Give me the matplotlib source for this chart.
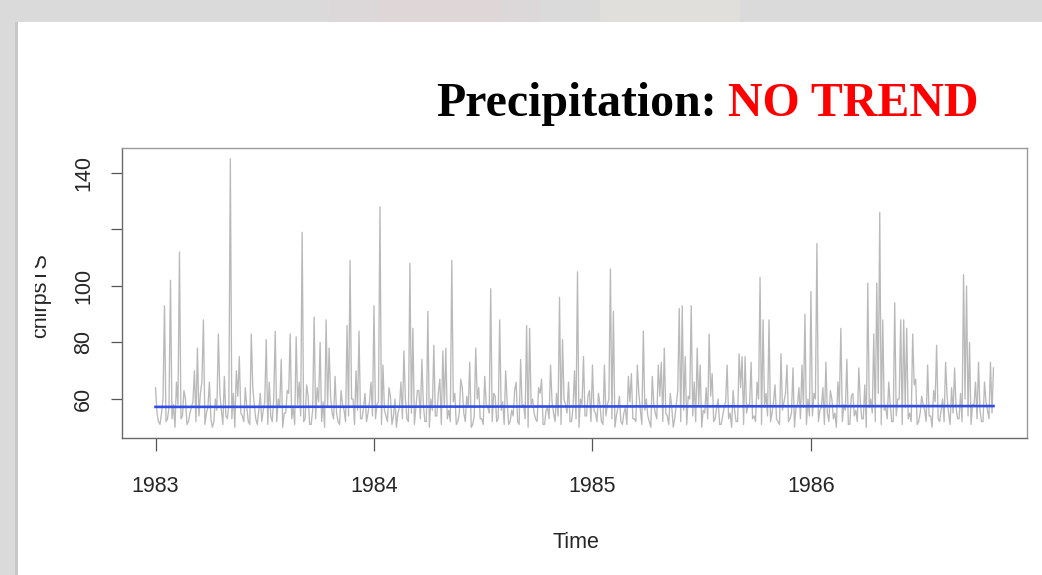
import numpy as np
import matplotlib.pyplot as plt
from matplotlib.patches import Rectangle

# -----------------------------
# Data (precipitation index)
# peaks: one value per pentad, troughs: the low between two pentads
# -----------------------------
start_year = 1983
per_year = 73

peaks_1983 = [64, 52, 55, 93, 53, 102, 58, 66, 112, 54, 60, 52, 57, 70, 78, 62, 88, 55, 66, 50,
              60, 83, 56, 68, 53, 145, 62, 70, 75, 54, 64, 52, 83, 58, 51, 62, 56, 81, 66, 52,
              84, 60, 74, 55, 63, 83, 57, 82, 66, 119, 53, 61, 51, 89, 64, 80, 59, 88, 78, 55,
              68, 52, 63, 56, 86, 109, 60, 70, 84, 53, 62, 55, 66]
peaks_1984 = [93, 58, 128, 72, 54, 64, 51, 60, 55, 66, 77, 53, 108, 85, 57, 63, 74, 52, 91, 60,
              79, 54, 67, 77, 78, 56, 109, 62, 52, 67, 55, 61, 73, 51, 78, 64, 53, 68, 57, 99,
              62, 52, 88, 59, 70, 51, 56, 63, 52, 74, 58, 86, 85, 60, 53, 64, 67, 51, 57, 72,
              55, 62, 96, 81, 58, 66, 52, 70, 105, 60, 75, 54, 63]
peaks_1985 = [72, 55, 62, 52, 72, 58, 106, 91, 54, 61, 51, 57, 68, 69, 53, 72, 56, 84, 60, 52,
              68, 55, 72, 73, 78, 54, 62, 50, 58, 92, 93, 75, 61, 93, 66, 78, 72, 56, 64, 83,
              69, 53, 60, 51, 57, 72, 55, 63, 52, 76, 75, 75, 58, 73, 54, 66, 103, 88, 62, 88,
              55, 65, 52, 76, 59, 72, 53, 71, 57, 64, 72, 90, 60]
peaks_1986 = [98, 62, 115, 56, 64, 73, 52, 60, 55, 66, 85, 58, 74, 51, 62, 56, 71, 53, 65, 101,
              60, 83, 101, 126, 88, 57, 66, 52, 94, 60, 88, 88, 85, 55, 83, 67, 52, 61, 56, 72,
              54, 63, 79, 52, 60, 73, 55, 64, 71, 53, 62, 104, 100, 80, 58, 66, 73, 52, 66, 56,
              73, 71]

troughs_1983 = [55, 51, 60, 52, 57, 53, 50, 58, 53, 63, 51, 55, 59, 52, 54, 66, 51, 57, 53, 52,
                56, 62, 51, 54, 58, 53, 50, 61, 55, 52, 57, 51, 64, 53, 56, 52, 59, 51, 54, 60,
                52, 57, 50, 55, 62, 53, 51, 58, 54, 52, 65, 51, 56, 53, 59, 52, 50, 57, 61, 53,
                55, 51, 58, 52, 54, 60, 51, 56, 53, 57, 52, 59, 54]
troughs_1984 = [53, 59, 51, 56, 52, 61, 54, 50, 57, 53, 60, 52, 55, 51, 63, 53, 58, 52, 50, 56,
                54, 62, 51, 57, 53, 52, 59, 51, 55, 64, 52, 57, 50, 54, 60, 53, 51, 58, 55, 52,
                61, 53, 56, 51, 59, 52, 54, 66, 51, 57, 53, 50, 58, 55, 52, 62, 51, 56, 53, 59,
                52, 54, 51, 60, 55, 52, 57, 53, 50, 58, 54, 61, 52]
troughs_1985 = [56, 52, 58, 51, 54, 60, 53, 50, 57, 52, 55, 51, 59, 53, 52, 62, 51, 56, 54, 50,
                58, 53, 61, 52, 55, 51, 57, 53, 63, 52, 56, 51, 60, 54, 52, 58, 50, 55, 53, 61,
                52, 57, 51, 54, 59, 53, 50, 56, 52, 64, 51, 55, 58, 53, 52, 60, 51, 57, 54, 52,
                59, 53, 51, 56, 62, 52, 55, 50, 58, 53, 57, 51, 54]
troughs_1986 = [54, 60, 52, 57, 51, 55, 63, 53, 50, 58, 52, 56, 51, 61, 54, 52, 59, 53, 50, 57,
                55, 52, 62, 51, 56, 53, 58, 52, 54, 60, 51, 57, 53, 52, 65, 51, 55, 58, 52, 54,
                50, 59, 53, 56, 52, 61, 51, 55, 57, 53, 52, 60, 54, 51, 58, 53, 56, 52, 59, 53,
                55]

trend_vals = [57.2, 57.5]   # fitted line, start and end

y_ticks = [60, 80, 100, 120, 140]
y_tick_labels = ["60", "80", "100", "", "140"]
x_ticks = [1983, 1984, 1985, 1986]

peaks = np.array(peaks_1983 + peaks_1984 + peaks_1985 + peaks_1986, dtype=float)
troughs = np.array(troughs_1983 + troughs_1984 + troughs_1985 + troughs_1986, dtype=float)

t_peaks = start_year + np.arange(len(peaks)) / per_year
t_troughs = t_peaks[:-1] + 0.5 / per_year

# interleave into one series
t = np.empty(len(peaks) + len(troughs))
y = np.empty_like(t)
t[0::2], y[0::2] = t_peaks, peaks
t[1::2], y[1::2] = t_troughs, troughs

# -----------------------------
# Figure: slide look
# -----------------------------
W, H = 1042, 575
fig = plt.figure(figsize=(W / 100, H / 100), dpi=100)
fig.patch.set_facecolor("#dadada")


def fx(x):
    return x / W


def fy(yy):
    return 1 - yy / H


def box(x0, y0, x1, y1, color, z):
    # rectangle in pixel coords (y measured from the top)
    fig.patches.append(Rectangle((fx(x0), fy(y1)), fx(x1) - fx(x0), (y1 - y0) / H,
                                 transform=fig.transFigure, facecolor=color,
                                 edgecolor="none", zorder=z))


# blurred slide background + white slide
box(330, 0, 380, 22, "#dcd8d9", -3)
box(380, 0, 500, 22, "#dfd6d8", -3)
box(500, 0, 540, 22, "#dcd8d9", -3)
box(600, 0, 740, 22, "#e0dfdb", -3)
box(15, 22, 18, 575, "#c8c8c8", -2)
box(18, 22, W, 575, "white", -2)

ax = fig.add_axes([fx(122), fy(438), fx(1027) - fx(122), (438 - 148) / H])
ax.set_zorder(1)
ax.set_facecolor("white")

ax.plot(t, y, color="#b9b9b9", lw=0.95)
ax.plot([t[0], t[-1]], trend_vals, color="#2f4de6", lw=1.9)

ax.margins(x=0.04, y=0.04)

ax.set_xticks(x_ticks)
ax.set_xticklabels([str(x) for x in x_ticks])
ax.set_yticks(y_ticks)
ax.set_yticklabels(y_tick_labels, rotation=90, va="center")

for s in ax.spines.values():
    s.set_color("#6a6a6a")
    s.set_linewidth(1.0)
ax.spines["top"].set_color("#9a9a9a")
ax.spines["right"].set_color("#9a9a9a")

ax.tick_params(axis="x", length=9.5, width=0.9, color="#555555", pad=18,
               labelsize=15.5, labelcolor="#262626")
ax.tick_params(axis="y", length=8, width=0.9, color="#555555", pad=12,
               labelsize=15.5, labelcolor="#262626")
for lab in ax.get_xticklabels() + ax.get_yticklabels():
    lab.set_fontfamily("Liberation Sans")

fig.text(fx(576), fy(542), "Time", ha="center", va="center", fontsize=15.5,
         color="#262626", family="Liberation Sans")

# y label, cut off at the left edge of the pasted picture
fig.text(fx(46), fy(296), "chirpsTS", rotation=90, rotation_mode="anchor",
         ha="center", va="baseline", fontsize=15.5, color="#262626",
         family="Liberation Sans", zorder=1)
box(20, 230, 34.5, 360, "white", 5)

# title
fig.text(fx(436), fy(116), "Precipitation:", ha="left", va="baseline", fontsize=34.5,
         fontweight="bold", family="Liberation Serif", color="black")
fig.text(fx(978), fy(116), "NO TREND", ha="right", va="baseline", fontsize=34.5,
         fontweight="bold", family="Liberation Serif", color="#ff0000")

fig.savefig("out.png", dpi=100, facecolor=fig.get_facecolor())
